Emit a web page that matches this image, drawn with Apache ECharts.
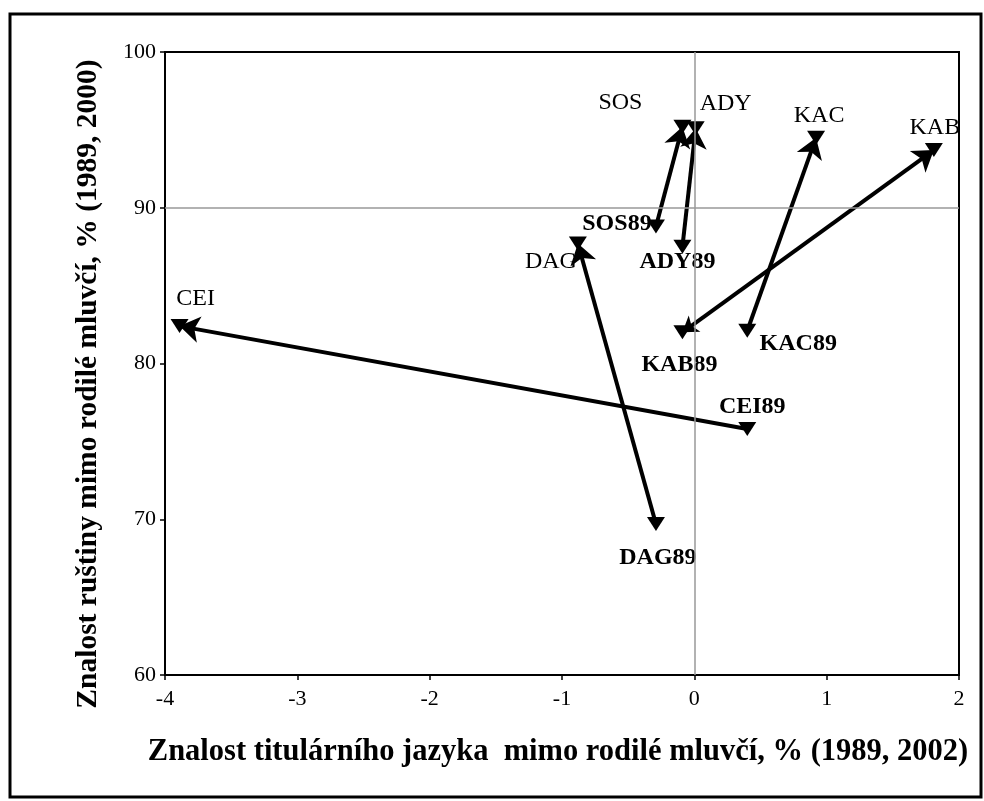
<!DOCTYPE html>
<html>
<head>
<meta charset="utf-8">
<script src="https://cdn.jsdelivr.net/npm/echarts@6/dist/echarts.min.js"></script>
<style>
  html, body { margin: 0; padding: 0; background: #fff; }
  #chart { width: 984px; height: 801px; }
</style>
</head>
<body>
<div id="chart"></div>
<script>
// Republic codes and their positions in 1989 and in the latest census
const codes = ['SOS', 'ADY', 'DAG', 'CEI', 'KAC', 'KAB'];
const titular1989 = [-0.29, -0.09, -0.29, 0.40, 0.40, -0.09];
const russian1989 = [88.8, 87.5, 69.7, 75.8, 82.1, 82.0];
const titularLatest = [-0.09, 0.01, -0.88, -3.89, 0.92, 1.81];
const russianLatest = [95.2, 95.1, 87.7, 82.4, 94.5, 93.7];

// Axis ranges and reference lines
const xRange = [-4, 2, 1];
const yRange = [60, 100, 10];
const xRef = 0;
const yRef = 90;

const xTitle = 'Znalost titulárního jazyka  mimo rodilé mluvčí, % (1989, 2002)';
const yTitle = 'Znalost ruštiny mimo rodilé mluvčí, % (1989, 2000)';

const FONT = "'Liberation Serif', 'Times New Roman', serif";

// label placement around each marker (pixels)
const latestOffset = {
  SOS: [-62, -24], ADY: [30, -25], DAG: [-27, 18],
  CEI: [16, -27], KAC: [3, -22], KAB: [1, -22]
};
const oldOffset = {
  SOS: [-39, -3], ADY: [-5, 15], DAG: [2, 34],
  CEI: [5, -22], KAC: [51, 13], KAB: [-3, 32]
};
// arrows that carry a head at both ends
const doubleHeaded = { KAB: true };

const triangleDown = {
  symbol: 'triangle',
  symbolSize: [18, 14],
  symbolRotate: 180,
  itemStyle: { color: '#000', opacity: 1 }
};

const arrowData = codes.map((c, i) => ({
  coords: [[titular1989[i], russian1989[i]], [titularLatest[i], russianLatest[i]]],
  symbol: doubleHeaded[c] ? ['arrow', 'arrow'] : ['none', 'arrow']
}));

const latestPoints = codes.map((c, i) => ({
  value: [titularLatest[i], russianLatest[i]],
  label: { offset: latestOffset[c] }
}));
const oldPoints = codes.map((c, i) => ({
  value: [titular1989[i], russian1989[i]],
  label: { offset: oldOffset[c] }
}));

const chart = echarts.init(document.getElementById('chart'), null, { renderer: 'canvas' });

chart.setOption({
  animation: false,
  backgroundColor: '#fff',
  grid: {
    left: 165, top: 52, width: 794, height: 623,
    show: true, borderColor: '#000', borderWidth: 2, backgroundColor: 'transparent'
  },
  xAxis: {
    type: 'value',
    min: xRange[0], max: xRange[1], interval: xRange[2],
    axisLine: { show: true, onZero: false, lineStyle: { color: '#000', width: 2 } },
    axisTick: { show: true, length: 5, lineStyle: { color: '#000', width: 1.5 } },
    axisLabel: { color: '#000', fontFamily: FONT, fontSize: 22, margin: 13 },
    splitLine: { show: false }
  },
  yAxis: {
    type: 'value',
    min: yRange[0], max: yRange[1], interval: yRange[2],
    axisLine: { show: true, onZero: false, lineStyle: { color: '#000', width: 2 } },
    axisTick: { show: true, length: 5, lineStyle: { color: '#000', width: 1.5 } },
    axisLabel: { color: '#000', fontFamily: FONT, fontSize: 22, margin: 9 },
    splitLine: { show: false }
  },
  graphic: [
    {
      type: 'rect', silent: true, z: 100,
      shape: { x: 10, y: 14, width: 971, height: 783 },
      style: { fill: 'none', stroke: '#000', lineWidth: 3 }
    },
    {
      type: 'text', silent: true,
      x: 558, y: 752,
      style: {
        text: xTitle, fontFamily: FONT, fontSize: 30.5, fontWeight: 'bold',
        fill: '#000', align: 'center', verticalAlign: 'middle'
      }
    },
    {
      type: 'text', silent: true,
      x: 88, y: 384, rotation: Math.PI / 2,
      style: {
        text: yTitle, fontFamily: FONT, fontSize: 29.5, fontWeight: 'bold',
        fill: '#000', align: 'center', verticalAlign: 'middle'
      }
    }
  ],
  series: [
    {
      type: 'scatter',
      data: [],
      silent: true,
      markLine: {
        silent: true,
        symbol: 'none',
        label: { show: false },
        lineStyle: { color: '#999', width: 1.5, type: 'solid' },
        data: [{ xAxis: xRef }, { yAxis: yRef }]
      }
    },
    {
      type: 'lines',
      coordinateSystem: 'cartesian2d',
      symbolSize: [15, 20],
      lineStyle: { color: '#000', width: 4, opacity: 1, curveness: 0 },
      itemStyle: { color: '#000' },
      data: arrowData,
      z: 3
    },
    Object.assign({
      type: 'scatter',
      name: '1989',
      data: oldPoints,
      z: 4,
      label: {
        show: true, position: 'inside',
        formatter: p => codes[p.dataIndex] + '89',
        color: '#000', fontFamily: FONT, fontSize: 24, fontWeight: 'bold'
      }
    }, triangleDown),
    Object.assign({
      type: 'scatter',
      name: 'latest',
      data: latestPoints,
      z: 4,
      label: {
        show: true, position: 'inside',
        formatter: p => codes[p.dataIndex],
        color: '#000', fontFamily: FONT, fontSize: 24
      }
    }, triangleDown)
  ]
});
</script>
</body>
</html>
